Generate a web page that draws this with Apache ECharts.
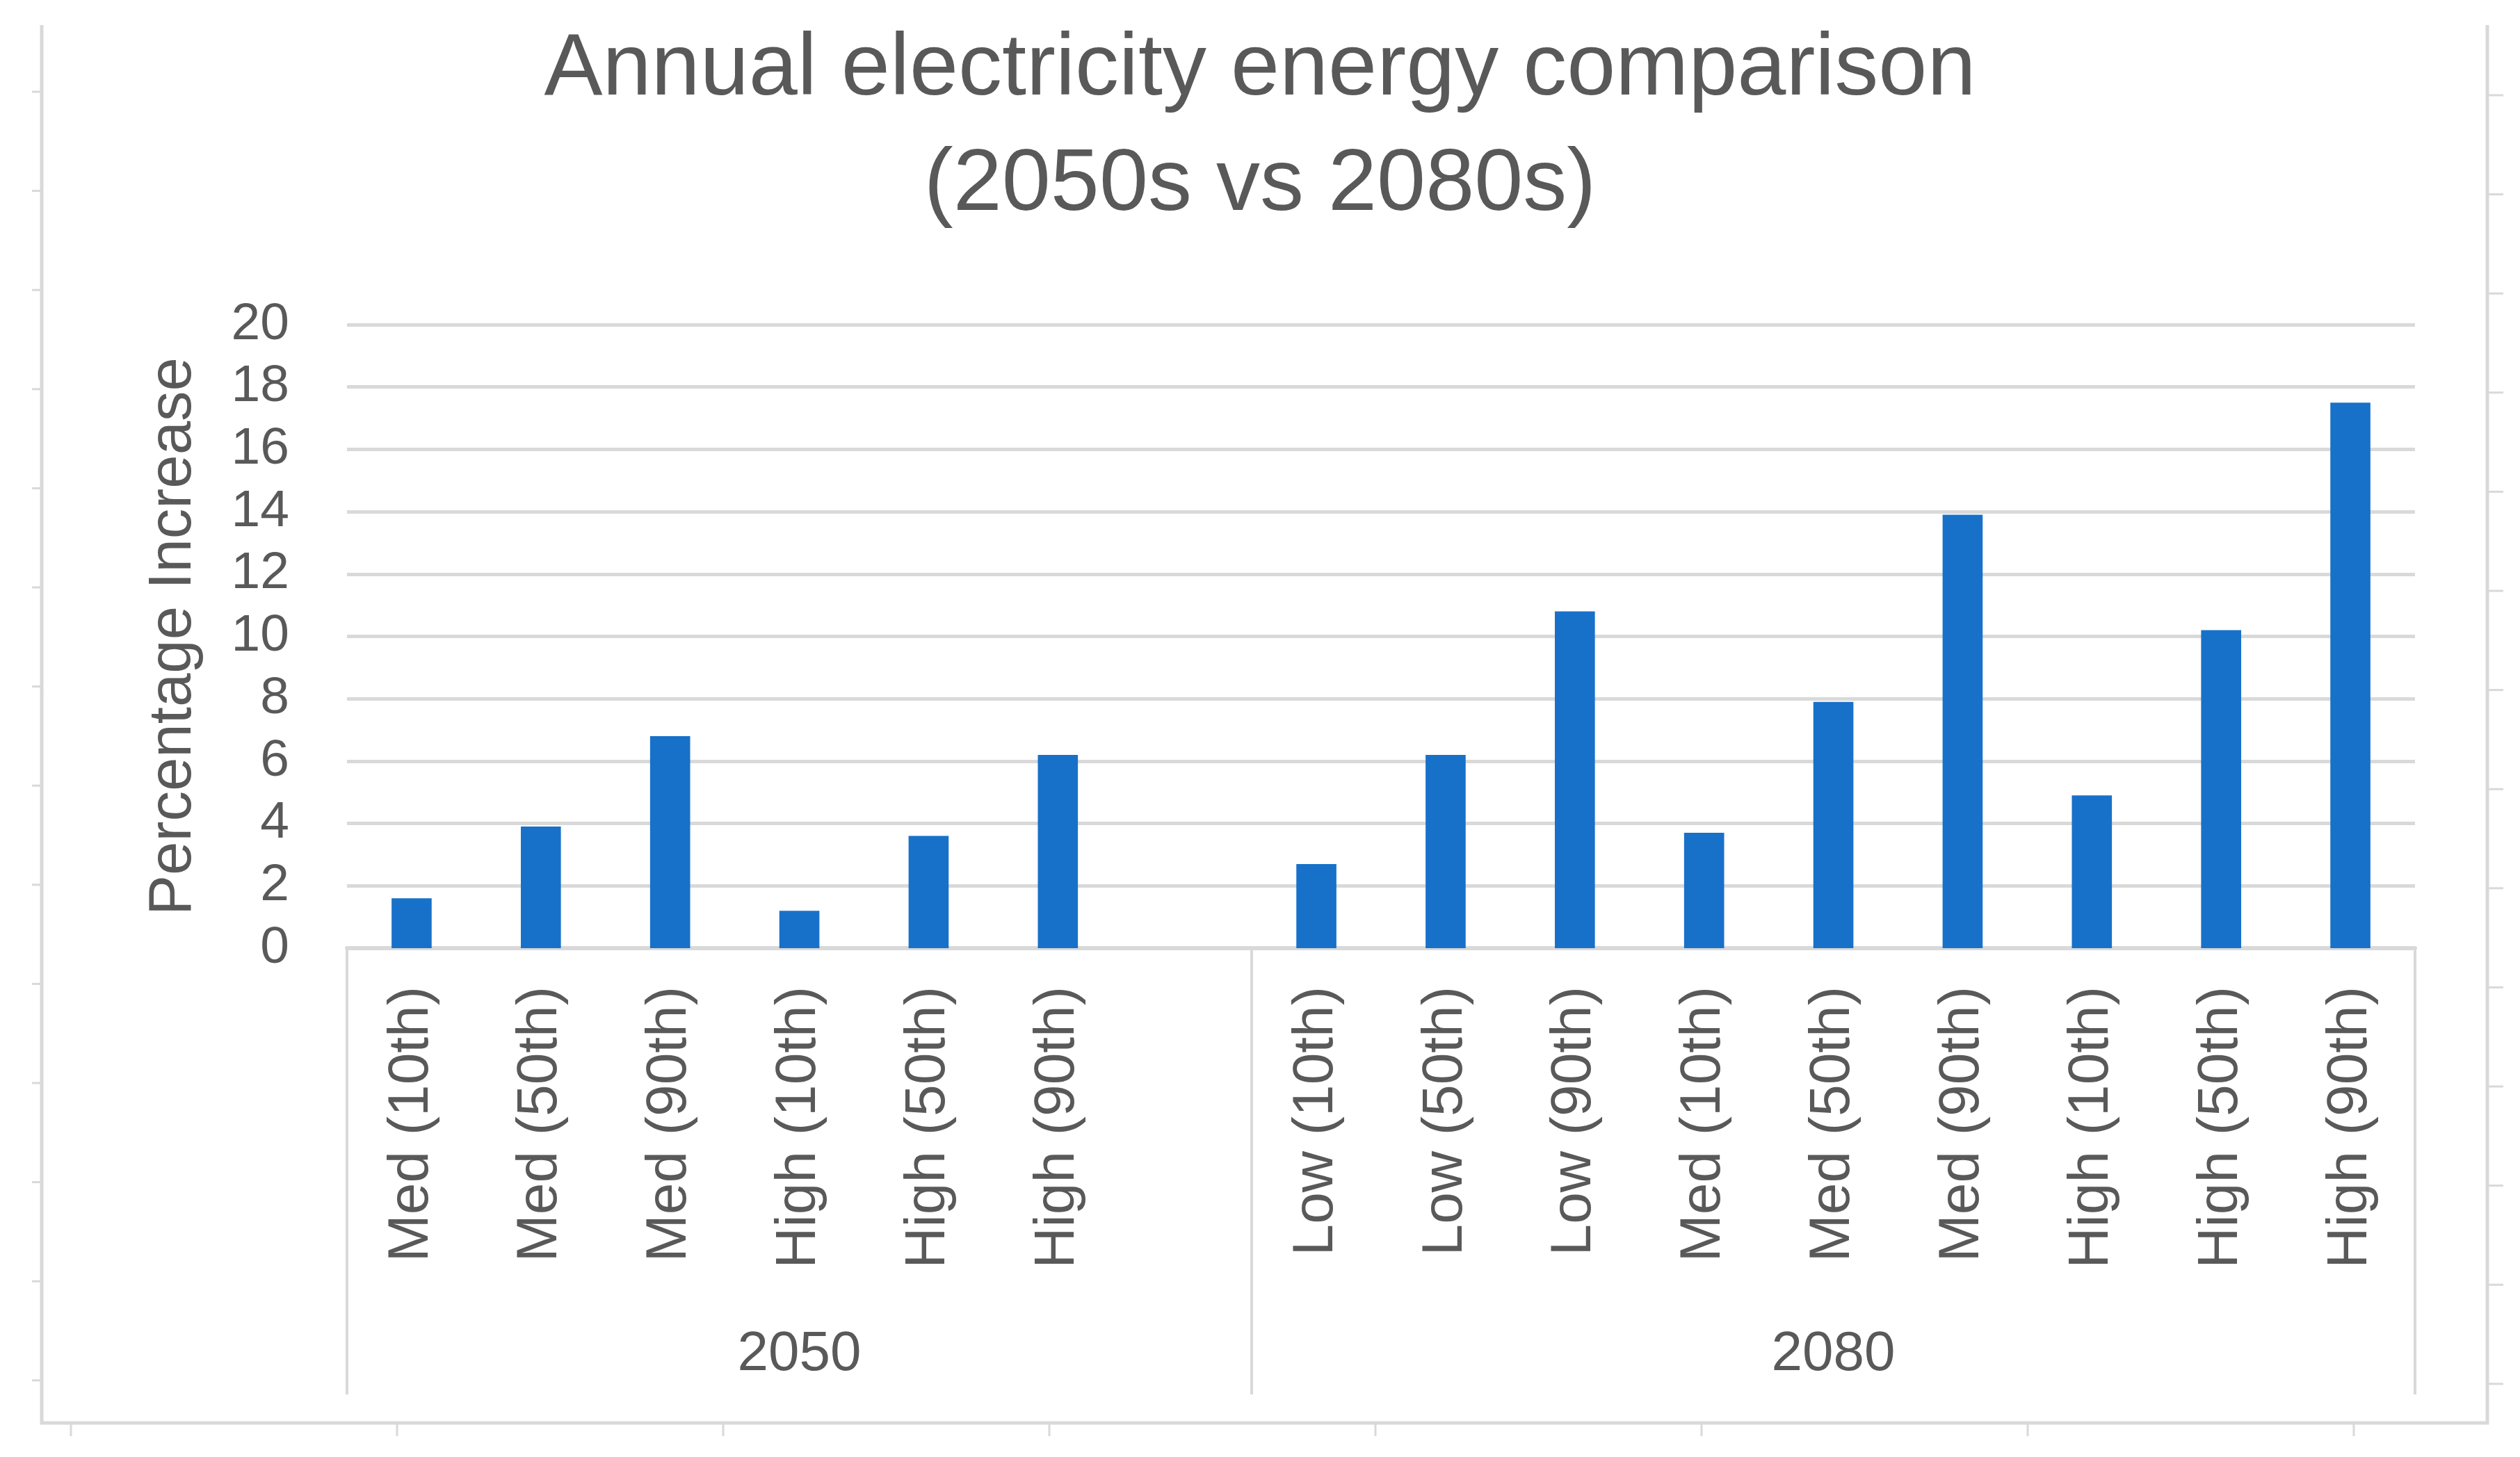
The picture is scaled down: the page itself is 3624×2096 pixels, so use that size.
<!DOCTYPE html>
<html>
<head>
<meta charset="utf-8">
<script src="https://cdn.jsdelivr.net/npm/echarts@6/dist/echarts.min.js"></script>
<style>
html,body{margin:0;padding:0;background:#fff;}
#chart{width:3624px;height:2096px;}
</style>
</head>
<body>
<div id="chart"></div>
<script>
// ---- data ----
const titleText = 'Annual electricity energy comparison\n(2050s vs 2080s)';
const yAxisName = 'Percentage Increase';
const groupNames = ['2050', '2080'];
const categories2050 = ['Med (10th)', 'Med (50th)', 'Med (90th)', 'High (10th)', 'High (50th)', 'High (90th)'];
const values2050 = [1.6, 3.9, 6.8, 1.2, 3.6, 6.2];
const categories2080 = ['Low (10th)', 'Low (50th)', 'Low (90th)', 'Med (10th)', 'Med (50th)', 'Med (90th)', 'High (10th)', 'High (50th)', 'High (90th)'];
const values2080 = [2.7, 6.2, 10.8, 3.7, 7.9, 13.9, 4.9, 10.2, 17.5];
const yTicks = [0, 2, 4, 6, 8, 10, 12, 14, 16, 18, 20];

// ---- build (2050 group has one empty slot at its end) ----
const categories = [...categories2050, '', ...categories2080];
const values = [...values2050, null, ...values2080];
const group1Len = categories2050.length + 1;
const group2Len = categories2080.length;
const groupSlots = categories.map(() => '');
groupSlots[Math.floor((group1Len - 1) / 2)] = groupNames[0];
groupSlots[group1Len + Math.floor((group2Len - 1) / 2)] = groupNames[1];

const TXT = '#595959';
const LINE = '#d9d9d9';
const FONT = '"Liberation Sans", Arial, sans-serif';

// decorative sheet frame
const deco = [];
deco.push({type:'polyline', shape:{points:[[60,36],[60,2047],[3577,2047],[3577,36]]}, style:{stroke:LINE, lineWidth:5, fill:null}, silent:true});
for (let y = 132; y < 2040; y += 142.6) {
  deco.push({type:'line', shape:{x1:46,y1:y,x2:60,y2:y}, style:{stroke:LINE, lineWidth:3}, silent:true});
  deco.push({type:'line', shape:{x1:3577,y1:y+5,x2:3600,y2:y+5}, style:{stroke:LINE, lineWidth:3}, silent:true});
}
for (let x = 102; x < 3577; x += 469) {
  deco.push({type:'line', shape:{x1:x,y1:2047,x2:x,y2:2066}, style:{stroke:LINE, lineWidth:3}, silent:true});
}

const chart = echarts.init(document.getElementById('chart'), null, {renderer:'canvas'});
chart.setOption({
  backgroundColor: '#ffffff',
  animation: false,
  title: {
    text: titleText,
    left: 'center',
    top: 13,
    textStyle: {color: TXT, fontFamily: FONT, fontWeight: 'normal', fontSize: 126, lineHeight: 166}
  },
  graphic: deco,
  grid: {left: 499, right: 151, top: 467, bottom: 732, containLabel: false},
  xAxis: [{
    type: 'category',
    data: categories,
    axisLine: {show: true, lineStyle: {color: LINE, width: 6}},
    axisTick: {
      show: true, length: 642, inside: false,
      interval: (i) => i === 0 || i === group1Len,
      lineStyle: {color: LINE, width: 4}
    },
    axisLabel: {interval: 0, rotate: 90, margin: 55, color: TXT, fontFamily: FONT, fontSize: 82},
    splitLine: {show: false}
  }, {
    type: 'category',
    data: groupSlots,
    position: 'bottom',
    axisLine: {show: false},
    axisTick: {show: false},
    axisLabel: {interval: 0, margin: 545, color: TXT, fontFamily: FONT, fontSize: 80},
    splitLine: {show: false}
  }],
  yAxis: {
    type: 'value',
    min: yTicks[0],
    max: yTicks[yTicks.length - 1],
    interval: yTicks[1] - yTicks[0],
    name: yAxisName,
    nameLocation: 'middle',
    nameGap: 205,
    nameTextStyle: {color: TXT, fontFamily: FONT, fontSize: 87},
    axisLine: {show: false},
    axisTick: {show: false},
    axisLabel: {margin: 83, color: TXT, fontFamily: FONT, fontSize: 75},
    splitLine: {show: true, lineStyle: {color: LINE, width: 5}}
  },
  series: [{
    type: 'bar',
    xAxisIndex: 0,
    data: values,
    barWidth: '31%',
    itemStyle: {color: '#1771c9'}
  }]
});
</script>
</body>
</html>
